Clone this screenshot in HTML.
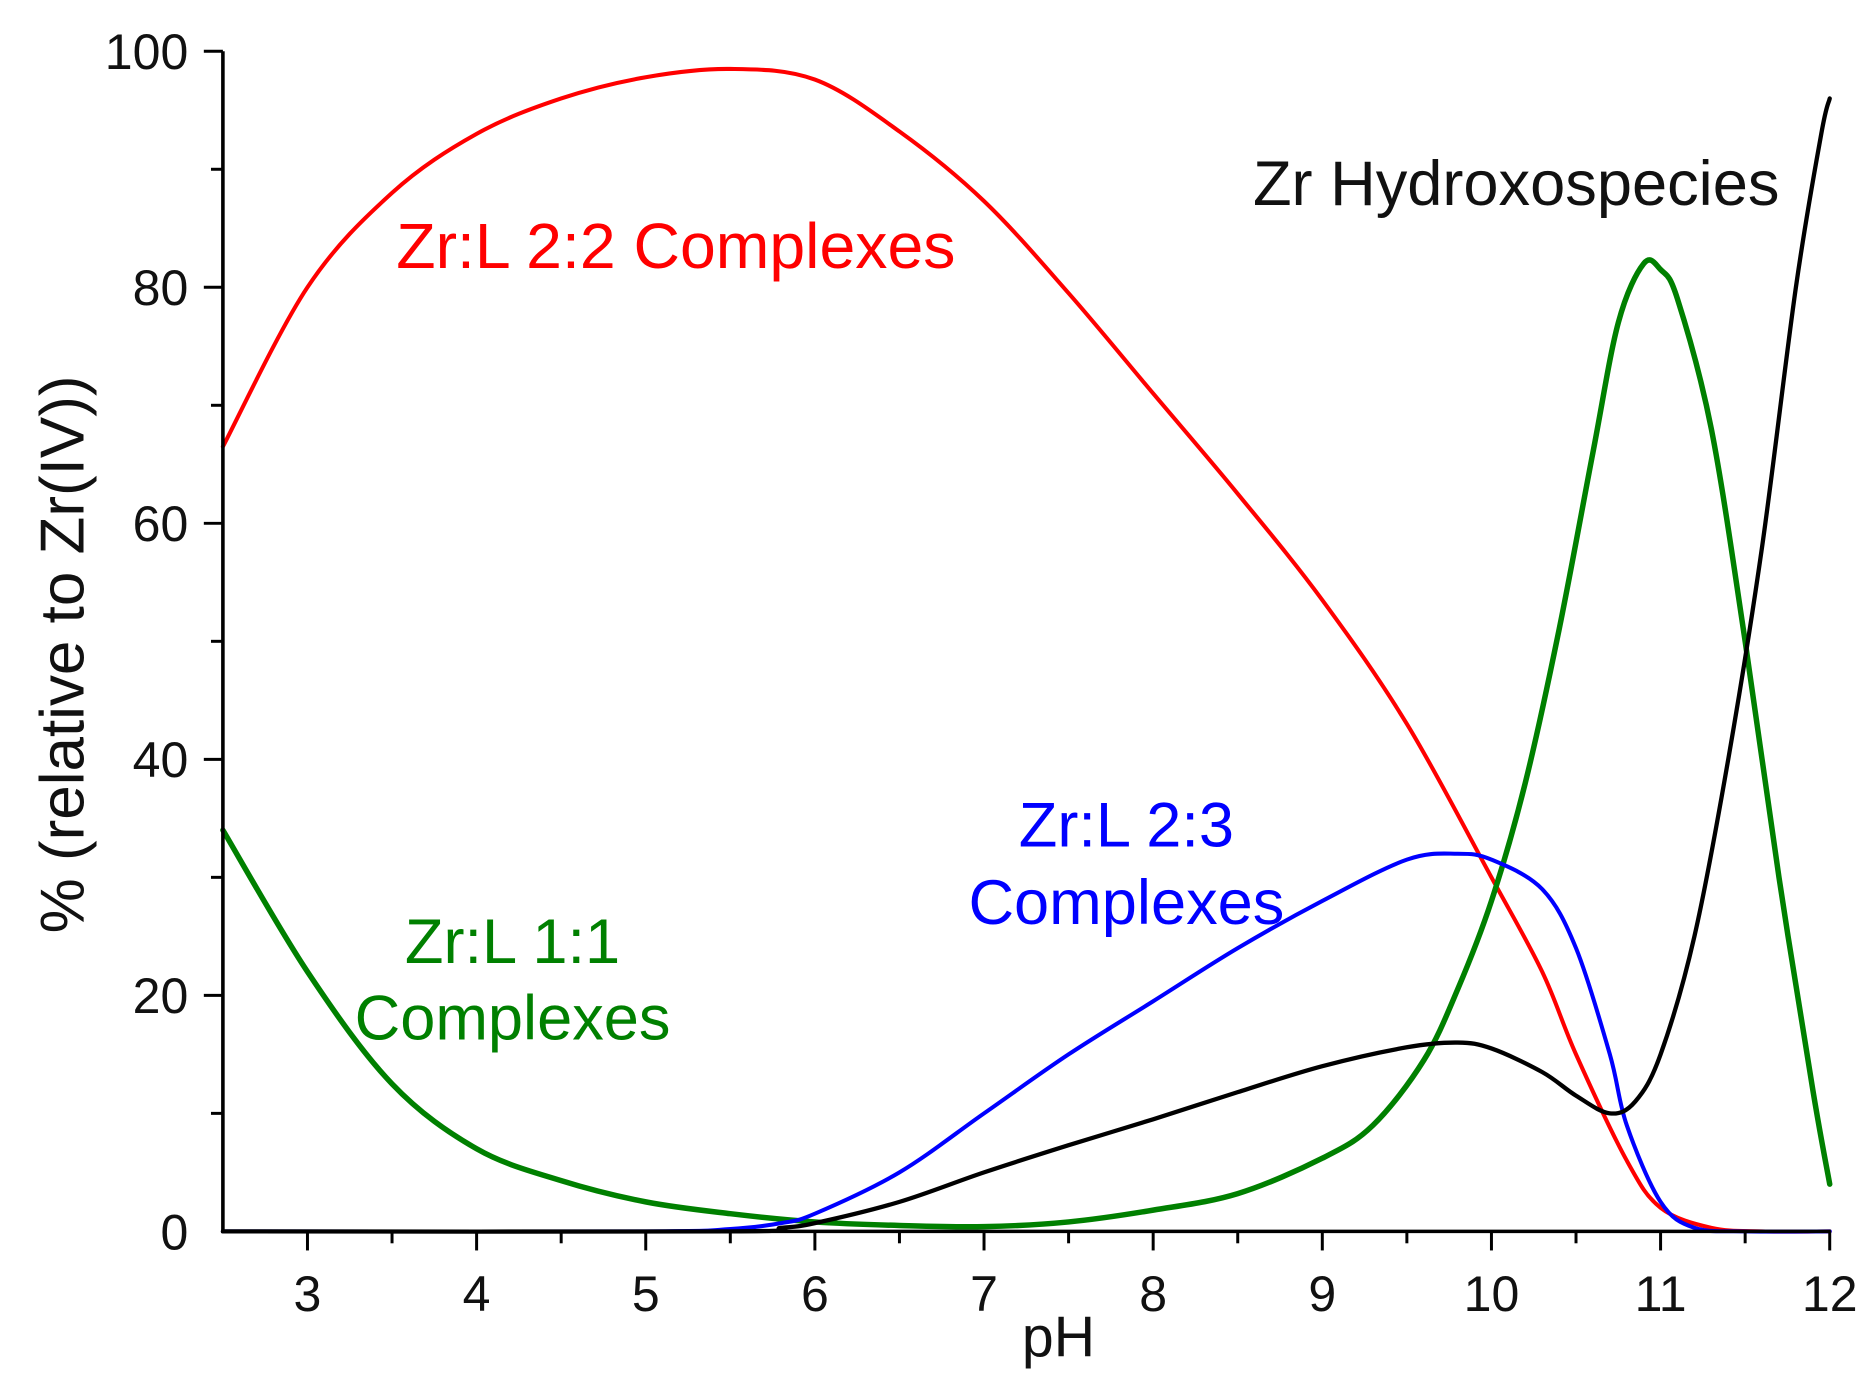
<!DOCTYPE html>
<html><head><meta charset="utf-8"><style>
html,body{margin:0;padding:0;background:#fff;width:1869px;height:1378px;overflow:hidden}
svg{display:block}
text{font-family:"Liberation Sans",Arial,sans-serif}
</style></head><body>
<svg id="s" width="1869" height="1378" viewBox="0 0 1568 1156" preserveAspectRatio="none" xmlns="http://www.w3.org/2000/svg">
<g id="curves" fill="none" stroke-width="3.6" stroke-linejoin="round" stroke-linecap="round"></g>
<g stroke="#000" stroke-width="3" fill="none">
<line x1="187" y1="43" x2="187" y2="1034"/>
<line x1="185.5" y1="1033" x2="1536" y2="1033"/>
</g>
<g id="ticks" stroke="#000" stroke-width="2.5"></g>
<g font-size="42" fill="#111" text-anchor="end" id="ylab">
<text x="158" y="1048">0</text>
<text x="158" y="850">20</text>
<text x="158" y="652">40</text>
<text x="158" y="454">60</text>
<text x="158" y="256">80</text>
<text x="158" y="58">100</text>
</g>
<g font-size="42" fill="#111" text-anchor="middle" id="xlab"></g>
<text x="888" y="1138" font-size="48" fill="#111" text-anchor="middle">pH</text>
<text transform="translate(70,549) rotate(-90)" font-size="52" fill="#111" text-anchor="middle">% (relative to Zr(IV))</text>
<text x="567" y="225" font-size="54" fill="#ff0000" text-anchor="middle">Zr:L 2:2 Complexes</text>
<text x="1272" y="172" font-size="53" fill="#111" text-anchor="middle">Zr Hydroxospecies</text>
<text x="945" y="710" font-size="53" fill="#0000ff" text-anchor="middle">Zr:L 2:3</text>
<text x="945" y="775" font-size="53" fill="#0000ff" text-anchor="middle">Complexes</text>
<text x="430" y="808" font-size="53" fill="#008000" text-anchor="middle">Zr:L 1:1</text>
<text x="430" y="872" font-size="53" fill="#008000" text-anchor="middle">Complexes</text>
</svg>
<script>
var X=function(p){return 187+(p-2.5)*141.9},Y=function(v){return 1033-v*9.9};
var ns="http://www.w3.org/2000/svg";
function el(par,tag,at){var e=document.createElementNS(ns,tag);for(var k in at)e.setAttribute(k,at[k]);par.appendChild(e);return e}
var T=document.getElementById('ticks');
for(var p=3;p<=12.01;p+=0.5){var maj=Math.abs(p-Math.round(p))<0.01;el(T,'line',{x1:X(p),x2:X(p),y1:1033,y2:1033+(maj?16:10)});}
for(var v=10;v<=100;v+=10){var maj=v%20==0;el(T,'line',{x1:187,x2:187-(maj?16:10),y1:Y(v),y2:Y(v)});}
var XL=document.getElementById('xlab');
for(var p=3;p<=12;p++){var t=el(XL,'text',{x:X(p),y:1100});t.textContent=p;}
var data={
"#ff0000":[[2.5,66.5],[3,80],[3.5,88],[4,93],[4.5,96],[5,97.8],[5.5,98.5],[6,97.6],[6.5,93.2],[7,87.3],[7.5,79.5],[8,71],[8.5,62.5],[9,53.5],[9.5,43],[10,30],[10.3,22],[10.5,15],[10.8,6],[11,2],[11.3,0.3],[11.6,0],[12,0]],
"#008000":[[2.5,34],[3,22],[3.5,12.5],[4,7],[4.5,4.3],[5,2.5],[5.5,1.5],[6,0.8],[6.5,0.5],[7,0.4],[7.5,0.8],[8,1.8],[8.5,3.2],[9,6.2],[9.3,9],[9.6,14.5],[9.8,20.5],[10,28],[10.2,38],[10.4,51],[10.6,66],[10.75,77],[10.9,82],[11,81.5],[11.1,79],[11.3,68],[11.5,50],[11.7,30],[11.9,12],[12,4]],
"#0000ff":[[2.5,0],[5,0],[5.5,0.2],[5.8,0.7],[6,1.5],[6.5,5],[7,10],[7.5,15],[8,19.5],[8.5,24],[9,28],[9.5,31.5],[9.8,32],[10,31.5],[10.3,29],[10.5,24],[10.7,15],[10.8,9],[11,2.5],[11.2,0.3],[11.5,0],[12,0]],
"#000000":[[2.5,0],[5.5,0],[5.8,0.3],[6,0.7],[6.5,2.5],[7,5],[7.5,7.3],[8,9.5],[8.5,11.8],[9,14],[9.5,15.6],[9.8,16],[10,15.5],[10.3,13.5],[10.5,11.5],[10.7,10],[10.85,11],[11,15],[11.2,25],[11.4,40],[11.6,58],[11.8,80],[11.95,93],[12,96]]};
var W={"#008000":4.6,"#000000":3.6,"#0000ff":3.4,"#ff0000":3.4};
var C=document.getElementById('curves');
for(var col in data){var pts=data[col].map(function(a){return [X(a[0]),Y(a[1])]});
var d="M"+pts[0][0]+","+pts[0][1];
for(var i=0;i<pts.length-1;i++){var p0=pts[i-1]||pts[i],p1=pts[i],p2=pts[i+1],p3=pts[i+2]||p2;
d+=" C"+(p1[0]+(p2[0]-p0[0])/6)+","+(p1[1]+(p2[1]-p0[1])/6)+" "+(p2[0]-(p3[0]-p1[0])/6)+","+(p2[1]-(p3[1]-p1[1])/6)+" "+p2[0]+","+p2[1];}
el(C,'path',{d:d,stroke:col,'stroke-width':W[col]});}
</script>
</body></html>
